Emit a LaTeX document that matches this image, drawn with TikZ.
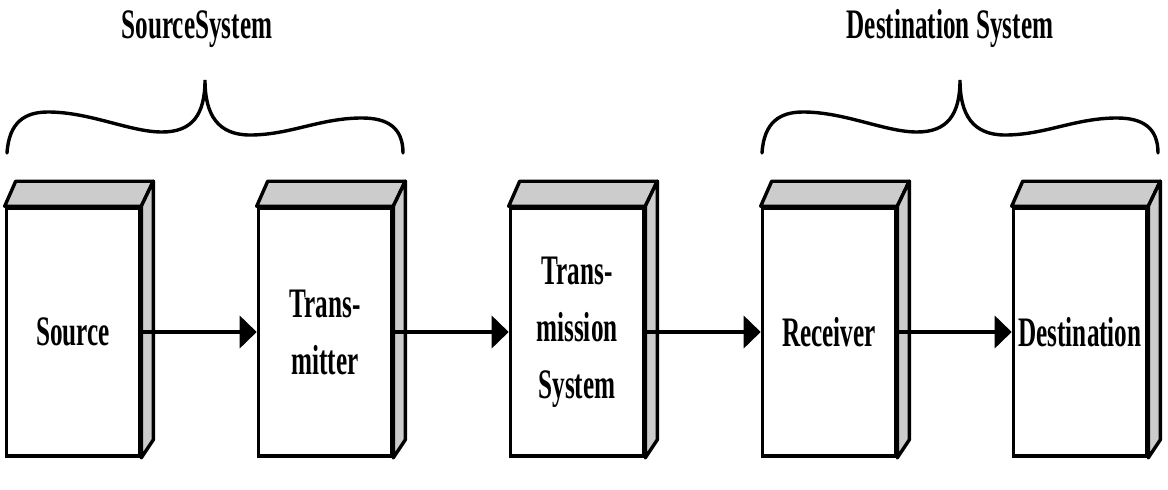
\documentclass[tikz,border=0pt]{standalone}
\usepackage{fontspec}
\newfontfamily\labfont[FakeStretch=0.6]{Liberation Serif}
\usetikzlibrary{arrows.meta,calc}
\begin{document}
\begin{tikzpicture}[x=1pt,y=-1pt,
  blockbox/.style={draw,line width=3.6pt,fill=white,minimum width=133pt,minimum height=248pt,
    inner sep=0pt,align=center,font=\labfont\bfseries\fontsize{42}{57}\selectfont},
  face/.style={draw,line width=3.4pt,fill=gray!40,line join=round},
  flow/.style={line width=3.8pt,-{Triangle[length=17pt,width=32pt]}},
  bracestyle/.style={line width=3.4pt,line cap=round},
  headtext/.style={anchor=base,inner sep=0pt,font=\labfont\bfseries\fontsize{42}{50}\selectfont}]
\useasboundingbox (0,0) rectangle (1168,490);
\fill[white] (0,0) rectangle (1168,490);

\node[blockbox] (src) at (73,332) {Source};
\node[blockbox] (tx)  at (325,332) {Trans-\\mitter};
\node[blockbox] (sys) at (577,332) {Trans-\\mission\\System};
\node[blockbox] (rx)  at (829,332) {Receiver};
\node[blockbox] (dst) at (1080,332) {Destination};

\foreach \n in {src,tx,sys,rx,dst}{
  \draw[face] (\n.north west) -- ++(11,-25) -- ($(\n.north east)+(12,-25)$) -- (\n.north east) -- cycle;
  \draw[face] (\n.north east) -- ++(12,-25) -- ($(\n.south east)+(12,-18)$) -- (\n.south east) -- cycle;
}

\draw[flow] (src.east) -- (tx.west);
\draw[flow] (tx.east) -- (sys.west);
\draw[flow] (sys.east) -- (rx.west);
\draw[flow] (rx.east) -- (dst.west);

\foreach \s in {0,755}{
  \begin{scope}[xshift=\s pt]
  \draw[bracestyle] (7,153) .. controls (9,122) and (25,112) .. (48,112)
     .. controls (90,112) and (130,132) .. (162,132)
     .. controls (192,132) and (205,115) .. (205,80)
     .. controls (205,115) and (218,135) .. (250,135)
     .. controls (290,135) and (320,118) .. (362,118)
     .. controls (388,118) and (403,128) .. (403,153);
  \end{scope}
}

\node[headtext] (hsrc) at (197,38) {SourceSystem};
\node[headtext] (hdst) at (950,38) {Destination System};
\end{tikzpicture}
\end{document}
